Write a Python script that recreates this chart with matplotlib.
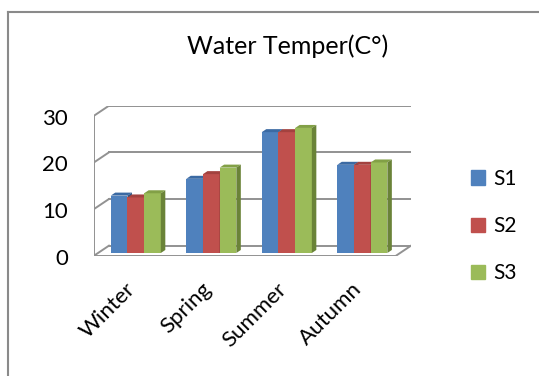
import matplotlib
matplotlib.use("Agg")
import matplotlib.pyplot as plt
from matplotlib.patches import Polygon, Patch
from matplotlib.lines import Line2D
import numpy as np

plt.rcParams["font.family"] = ["Lato", "DejaVu Sans"]

categories = ["Winter", "Spring", "Summer", "Autumn"]
s1 = [12.3, 15.9, 25.9, 18.9]
s2 = [11.9, 16.9, 25.9, 18.9]
s3 = [12.8, 18.3, 26.8, 19.4]
series_names = ["S1", "S2", "S3"]
y_ticks = [0, 10, 20, 30]
title = "Water Temper(C\u00b0)"

front_col = ["#4F81BD", "#C0504D", "#9BBB59"]
top_col = ["#3B6AA3", "#A3423F", "#82A046"]
side_col = ["#2F5584", "#843431", "#6A8338"]
grid_col = "#929292"

W, H = 539, 376
fig = plt.figure(figsize=(W / 100, H / 100), dpi=100)
ax = fig.add_axes([94 / W, (H - 255.7) / H, (411 - 94) / W, 150 / H])

# oblique "3D" depth of the plot box, in data units
DX, DY = 0.198, 2.15
ax.set_xlim(-0.5, len(categories) - 0.5 + DX)
ax.set_ylim(0, y_ticks[-1] + DY)
ax.axis("off")

# back wall gridlines + left wall diagonals
x0, x1 = -0.5, len(categories) - 0.5
for v in y_ticks:
    ax.plot([x0 + DX, x1 + DX], [v + DY, v + DY], color=grid_col, lw=1.4, zorder=0.5)
    ax.plot([x0, x0 + DX], [v, v + DY], color=grid_col, lw=1.4, zorder=0.5)
    ax.annotate(str(v), (x0, v), xytext=(-26, -3), textcoords="offset pixels",
                ha="right", va="center", fontsize=16)
ax.plot([x0, x0], [0, y_ticks[-1]], color=grid_col, lw=1.4, zorder=0.5)
ax.plot([x0, x1], [0, 0], color=grid_col, lw=1.4, zorder=0.5)
ax.plot([x1, x1 + DX], [0, DY], color=grid_col, lw=1.4, zorder=0.5)

# bars sit part way into the depth
f0, fd = 0.27, 0.30
bw = 0.221
bx, by = f0 * DX, f0 * DY
ddx, ddy = fd * DX, fd * DY
x = np.arange(len(categories))
z = 3
for j, vals in enumerate([s1, s2, s3]):
    xs = x + (j - 1) * bw + bx
    ax.bar(xs, vals, bw, bottom=by, color=front_col[j], zorder=z)
    for xc, v in zip(xs, vals):
        xl, xr, yt = xc - bw / 2, xc + bw / 2, by + v
        ax.add_patch(Polygon([(xl, yt), (xr, yt), (xr + ddx, yt + ddy), (xl + ddx, yt + ddy)],
                             closed=True, color=top_col[j], lw=0, zorder=z))
        ax.add_patch(Polygon([(xr, by), (xr + ddx, by + ddy), (xr + ddx, yt + ddy), (xr, yt)],
                             closed=True, color=side_col[j], lw=0, zorder=z))
    z += 1

for i, cat in enumerate(categories):
    ax.text(i + bx - 0.14, -5.0, cat, rotation=45, ha="right", va="top",
            rotation_mode="anchor", fontsize=16, clip_on=False)

fig.text(288 / W, 1 - 46 / H, title, ha="center", va="center", fontsize=18)

handles = [Patch(color=c) for c in front_col]
fig.legend(handles, series_names, loc="center left", bbox_to_anchor=(454 / W, 1 - 226 / H),
           frameon=False, handlelength=0.68, handleheight=0.68, handletextpad=0.4,
           labelspacing=1.3, fontsize=15, borderpad=0.3)

# chart frame (top and left edges visible)
fig.add_artist(Line2D([8 / W, 1], [1 - 12 / H, 1 - 12 / H], color="#8A8A8A", lw=1.5))
fig.add_artist(Line2D([8 / W, 8 / W], [0, 1 - 12 / H], color="#8A8A8A", lw=1.5))

fig.savefig("out.png", dpi=100)
